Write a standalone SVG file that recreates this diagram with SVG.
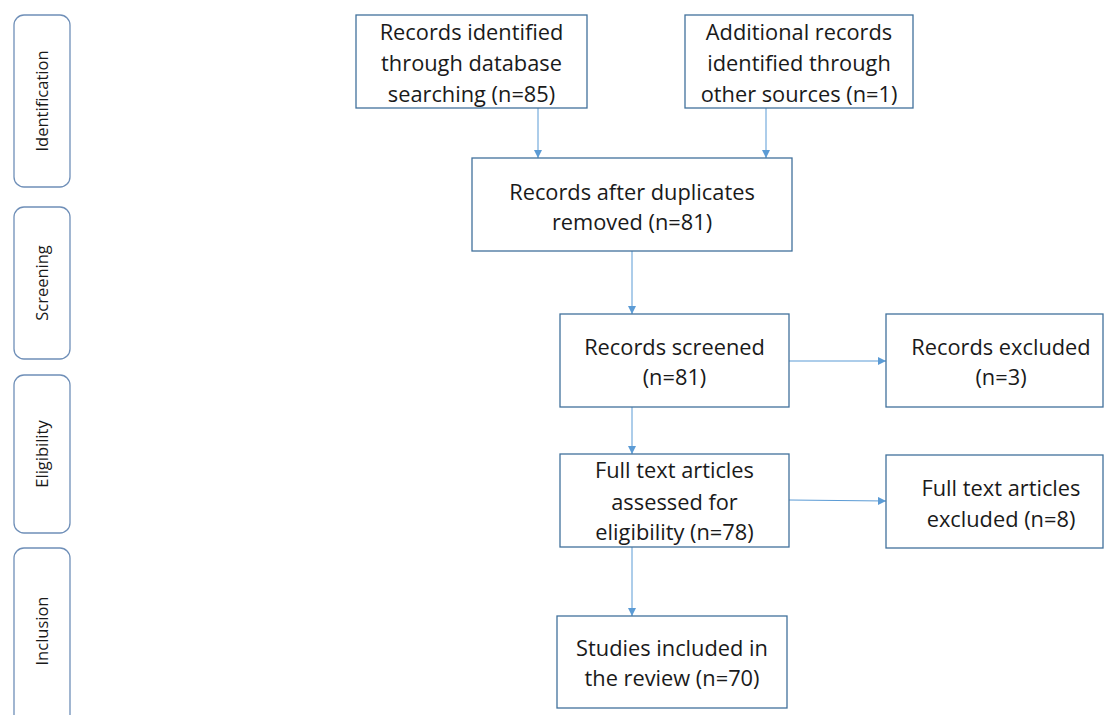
<svg xmlns="http://www.w3.org/2000/svg" width="1104" height="715" viewBox="0 0 1104 715">
  <defs>
    <style>
      .box { fill: #ffffff; stroke: #41719c; stroke-width: 1.3; }
      .phase { fill: #ffffff; stroke: #6f8fb8; stroke-width: 1.3; }
      .t { font-family: "Open Sans", "Liberation Sans", sans-serif; font-size: 21.8px; fill: #1a1a1a; text-anchor: middle; }
      .pt { font-family: "Open Sans", "Liberation Sans", sans-serif; font-size: 16.5px; fill: #1a1a1a; text-anchor: middle; }
      .conn { stroke: #5b9bd5; stroke-width: 1; fill: none; marker-end: url(#arrow); }
    </style>
    <marker id="arrow" viewBox="0 0 8 8" refX="8" refY="4" markerWidth="8" markerHeight="8" markerUnits="userSpaceOnUse" orient="auto">
      <path d="M0,0 L8,4 L0,8 Z" fill="#5b9bd5"/>
    </marker>
  </defs>
  <rect width="1104" height="715" fill="#ffffff"/>

  <!-- phase labels on the left -->
  <g id="phase-identification">
    <rect class="phase" x="14" y="15" width="56" height="172" rx="10"/>
    <text class="pt" transform="translate(48,101) rotate(-90)">Identification</text>
  </g>
  <g id="phase-screening">
    <rect class="phase" x="14" y="207" width="56" height="152" rx="10"/>
    <text class="pt" transform="translate(48,283) rotate(-90)">Screening</text>
  </g>
  <g id="phase-eligibility">
    <rect class="phase" x="14" y="375" width="56" height="158" rx="10"/>
    <text class="pt" transform="translate(48,454) rotate(-90)">Eligibility</text>
  </g>
  <g id="phase-inclusion">
    <rect class="phase" x="14" y="548" width="56" height="180" rx="10"/>
    <text class="pt" transform="translate(48,631) rotate(-90)">Inclusion</text>
  </g>

  <!-- connectors -->
  <g id="connectors">
    <line class="conn" x1="538" y1="108" x2="538" y2="158"/>
    <line class="conn" x1="766" y1="108" x2="766" y2="158"/>
    <line class="conn" x1="632" y1="251" x2="632" y2="314"/>
    <line class="conn" x1="632" y1="407" x2="632" y2="454"/>
    <line class="conn" x1="789" y1="361" x2="886" y2="361"/>
    <line class="conn" x1="789" y1="500" x2="886" y2="501"/>
    <line class="conn" x1="632" y1="547" x2="632" y2="616"/>
  </g>

  <!-- flow boxes -->
  <g id="records-database">
    <rect class="box" x="356" y="15" width="231" height="93"/>
    <text class="t" x="471.5" y="40">Records identified</text>
    <text class="t" x="471.5" y="71">through database</text>
    <text class="t" x="471.5" y="102">searching (n=85)</text>
  </g>
  <g id="records-other">
    <rect class="box" x="685" y="15" width="228" height="93"/>
    <text class="t" x="799" y="40">Additional records</text>
    <text class="t" x="799" y="71">identified through</text>
    <text class="t" x="799" y="102">other sources (n=1)</text>
  </g>
  <g id="records-deduplicated">
    <rect class="box" x="472" y="158" width="320" height="93"/>
    <text class="t" x="632" y="200">Records after duplicates</text>
    <text class="t" x="632" y="230">removed (n=81)</text>
  </g>
  <g id="records-screened">
    <rect class="box" x="560" y="314" width="229" height="93"/>
    <text class="t" x="674.5" y="355">Records screened</text>
    <text class="t" x="674.5" y="385">(n=81)</text>
  </g>
  <g id="records-excluded">
    <rect class="box" x="886" y="314" width="217" height="93"/>
    <text class="t" x="1001" y="355">Records excluded</text>
    <text class="t" x="1001" y="385">(n=3)</text>
  </g>
  <g id="fulltext-assessed">
    <rect class="box" x="560" y="454" width="229" height="93"/>
    <text class="t" x="674.5" y="478">Full text articles</text>
    <text class="t" x="674.5" y="510">assessed for</text>
    <text class="t" x="674.5" y="540">eligibility (n=78)</text>
  </g>
  <g id="fulltext-excluded">
    <rect class="box" x="886" y="455" width="217" height="93"/>
    <text class="t" x="1001" y="496">Full text articles</text>
    <text class="t" x="1001" y="527">excluded (n=8)</text>
  </g>
  <g id="studies-included">
    <rect class="box" x="557" y="616" width="230" height="92"/>
    <text class="t" x="672" y="656">Studies included in</text>
    <text class="t" x="672" y="686">the review (n=70)</text>
  </g>
</svg>
